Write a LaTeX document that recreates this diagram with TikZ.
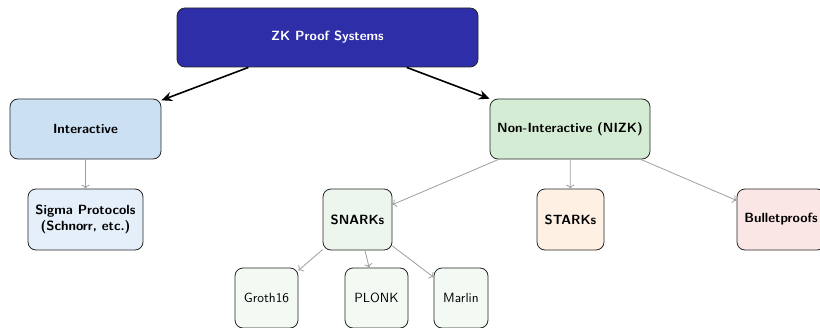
\documentclass[tikz,border=0pt]{standalone}
\usepackage{xcolor}
\usetikzlibrary{
  positioning,
  arrows.meta
}
\definecolor{zkblue}{RGB}{46,46,168}
\definecolor{intblue}{RGB}{204,224,244}
\definecolor{sigblue}{RGB}{229,239,250}
\definecolor{nizkgreen}{RGB}{212,236,212}
\definecolor{snarkgreen}{RGB}{236,246,236}
\definecolor{leafgreen}{RGB}{243,250,243}
\definecolor{starkorange}{RGB}{254,241,228}
\definecolor{bulletred}{RGB}{251,230,230}

\begin{document}
\begin{tikzpicture}[x=0.75pt, y=-0.75pt, font=\sffamily,
    box/.style={draw=black!85, line width=0.6pt, rounded corners=6pt,
      align=center, inner sep=2pt, minimum height=45pt},
    bigarrow/.style={-{Stealth[length=8pt, width=7pt]}, line width=1.2pt},
    subarrow/.style={->, draw=black!38, line width=0.6pt}]
      \useasboundingbox (0,0) rectangle (820,328);
      \clip (0,0) rectangle (820,328);

      % Root
      \node[box, fill=zkblue, text=white, minimum width=225.75pt, minimum height=44.25pt,
        font=\sffamily\bfseries] (zk) at (327.5,37.5) {ZK Proof Systems};

      % Second level
      \node[box, fill=intblue, minimum width=113.25pt, font=\sffamily\bfseries]
        (inter) at (85.5,129) {Interactive};
      \node[box, fill=nizkgreen, minimum width=120pt, font=\sffamily\bfseries]
        (nizk) at (570,129) {Non-Interactive (NIZK)};

      % Third level
      \node[box, fill=sigblue, minimum width=86.25pt, minimum height=45.75pt,
        font=\sffamily\bfseries] (sigma) at (85.5,219.5) {Sigma Protocols\\(Schnorr, etc.)};
      \node[box, fill=snarkgreen, minimum width=51.75pt, minimum height=45.75pt,
        font=\sffamily\bfseries] (snarks) at (357.5,219.5) {SNARKs};
      \node[box, fill=starkorange, minimum width=50.25pt, minimum height=45.75pt,
        font=\sffamily\bfseries] (starks) at (570.5,219.5) {STARKs};
      \node[box, fill=bulletred, minimum width=66pt, minimum height=45.75pt,
        font=\sffamily\bfseries] (bullet) at (781,219.5) {Bulletproofs};

      % SNARK constructions
      \node[box, fill=leafgreen, minimum width=47.25pt] (groth) at (266.5,298) {Groth16};
      \node[box, fill=leafgreen, minimum width=47.25pt] (plonk) at (376.5,298) {PLONK};
      \node[box, fill=leafgreen, minimum width=40.5pt] (marlin) at (461,298) {Marlin};

      % Edges
      \draw[bigarrow] (zk) -- (inter);
      \draw[bigarrow] (zk) -- (nizk);
      \draw[subarrow] (inter) -- (sigma);
      \draw[subarrow] (nizk) -- (snarks);
      \draw[subarrow] (nizk) -- (starks);
      \draw[subarrow] (nizk) -- (bullet);
      \draw[subarrow] (snarks) -- (groth);
      \draw[subarrow] (snarks) -- (plonk);
      \draw[subarrow] (snarks) -- (marlin);
    \end{tikzpicture}
\end{document}
